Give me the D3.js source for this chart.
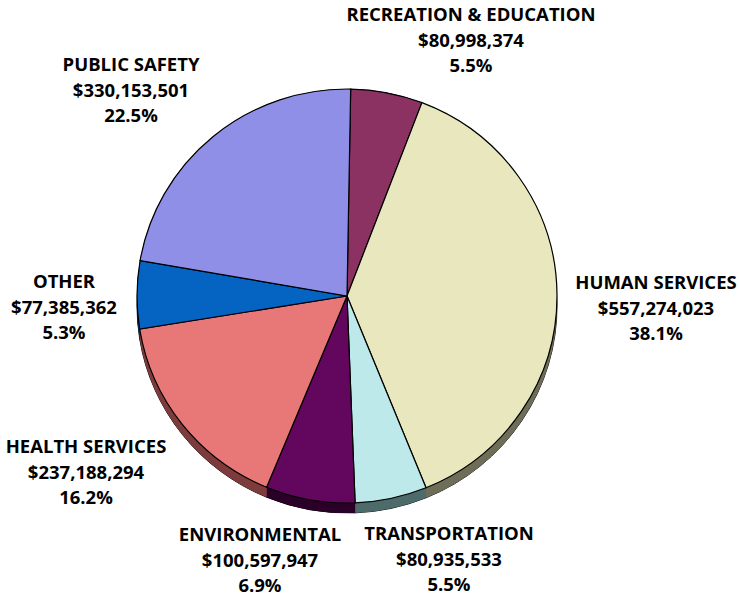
<!DOCTYPE html>
<html><head><meta charset="utf-8">
<script src="https://cdn.jsdelivr.net/npm/d3@7"></script>
<style>
html,body{margin:0;padding:0;background:#fff;}
svg{display:block;}
</style></head>
<body>
<script>
const categories = ["RECREATION & EDUCATION","HUMAN SERVICES","TRANSPORTATION","ENVIRONMENTAL","HEALTH SERVICES","OTHER","PUBLIC SAFETY"];
const values = [80998374,557274023,80935533,100597947,237188294,77385362,330153501];
const faceColors = ["#8B3262","#E8E7BD","#BDE9EA","#63075E","#E87777","#0563C1","#8F8FE8"];
const sideColors = ["#4A1A34","#6E6E58","#4D6B6B","#2A0028","#7D3B3B","#03356A","#4E4E80"];
// label anchor (center x, first baseline y) — layout only
const labelLayout = [[471,21],[656,289],[449,540],[260,541],[86,453],[64,288],[131,71]];

const W=740,H=598, cx=347, cy=296, rx=210, ry=207, depth=10;
const svg=d3.select("body").append("svg").attr("width",W).attr("height",H);

const total=d3.sum(values);
const pie=d3.pie().sort(null).value(d=>d).startAngle(1*Math.PI/180).endAngle(1*Math.PI/180+2*Math.PI);
const arcs=pie(values);
const arc=d3.arc().innerRadius(0).outerRadius(ry);
const sx=rx/ry;

// side (depth)
const side=svg.append("g").attr("transform",`translate(${cx},${cy+depth}) scale(${sx},1)`);
side.selectAll("path").data(arcs).join("path")
  .attr("d",arc).attr("fill",(d,i)=>sideColors[i])
  .attr("stroke","#111").attr("stroke-width",1).attr("vector-effect","non-scaling-stroke");
const rim=svg.append("g").attr("transform",`translate(${cx},${cy}) scale(${sx},1)`);
arcs.forEach((d,i)=>{
  const n=60, pts=[];
  for(let k=0;k<=n;k++){const a=d.startAngle+(d.endAngle-d.startAngle)*k/n; pts.push([Math.sin(a)*ry,-Math.cos(a)*ry]);}
  const top=pts.slice(), bot=pts.slice().reverse().map(p=>[p[0],p[1]+depth]);
  rim.append("path").attr("d","M"+top.concat(bot).map(p=>p.join(",")).join("L")+"Z")
    .attr("fill",sideColors[i]).attr("stroke","none");
});
// face
const face=svg.append("g").attr("transform",`translate(${cx},${cy}) scale(${sx},1)`);
face.selectAll("path").data(arcs).join("path")
  .attr("d",arc).attr("fill",(d,i)=>faceColors[i])
  .attr("stroke","#000").attr("stroke-width",1.2).attr("vector-effect","non-scaling-stroke");

// labels
const money=d3.format("$,");
const pct=d3.format(".1%");
const lab=svg.append("g").attr("font-family","'Open Sans', sans-serif").attr("font-weight","bold")
  .attr("font-size",18.5).attr("fill","#000").attr("text-anchor","middle");
categories.forEach((c,i)=>{
  const [x,y]=labelLayout[i];
  const t=lab.append("text").attr("x",x).attr("y",y);
  [c, money(values[i]), pct(values[i]/total)].forEach((s,k)=>{
    t.append("tspan").attr("x",x).attr("y",y+k*25.5).text(s);
  });
});
</script>
</body></html>
